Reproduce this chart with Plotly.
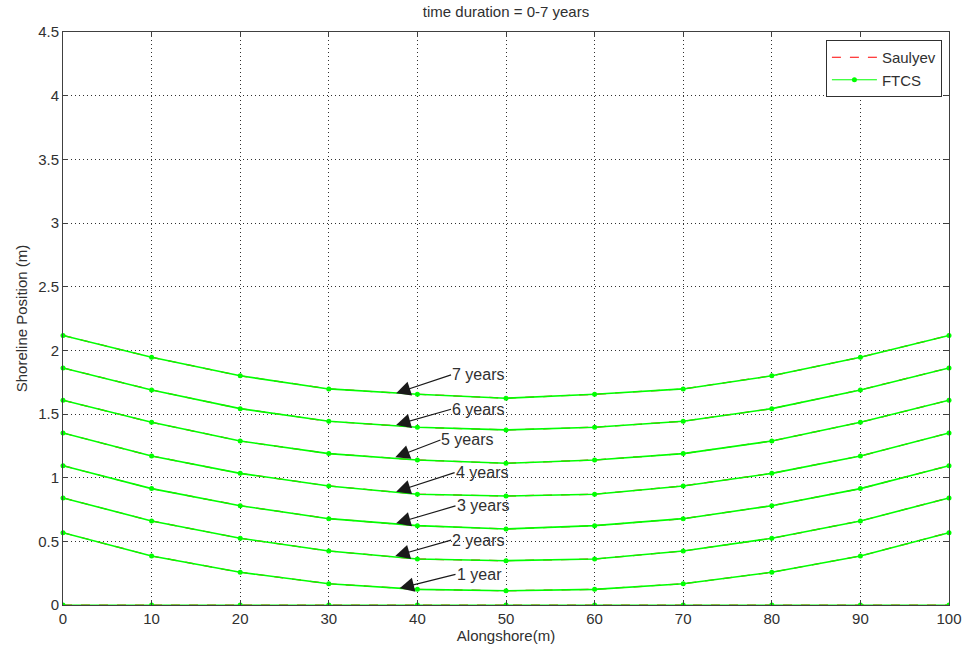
import plotly.graph_objects as go

x_along = [0, 10, 20, 30, 40, 50, 60, 70, 80, 90, 100]
y_0yr = [0, 0, 0, 0, 0, 0, 0, 0, 0, 0, 0]
y_1yr = [0.568, 0.385, 0.257, 0.167, 0.123, 0.112, 0.123, 0.167, 0.257, 0.385, 0.568]
y_2yr = [0.841, 0.660, 0.524, 0.424, 0.361, 0.348, 0.361, 0.424, 0.524, 0.660, 0.841]
y_3yr = [1.094, 0.914, 0.780, 0.678, 0.623, 0.597, 0.623, 0.678, 0.780, 0.914, 1.094]
y_4yr = [1.351, 1.170, 1.034, 0.935, 0.870, 0.856, 0.870, 0.935, 1.034, 1.170, 1.351]
y_5yr = [1.608, 1.435, 1.288, 1.189, 1.139, 1.113, 1.139, 1.189, 1.288, 1.435, 1.608]
y_6yr = [1.862, 1.689, 1.542, 1.443, 1.396, 1.375, 1.396, 1.443, 1.542, 1.689, 1.862]
y_7yr = [2.117, 1.946, 1.800, 1.697, 1.655, 1.624, 1.655, 1.697, 1.800, 1.946, 2.117]
series = [y_0yr, y_1yr, y_2yr, y_3yr, y_4yr, y_5yr, y_6yr, y_7yr]

labels = ["1 year", "2 years", "3 years", "4 years", "5 years", "6 years", "7 years"]
label_head_x = [38.0, 37.5, 37.6, 37.6, 37.5, 37.6, 37.6]
label_head_y = [0.131, 0.385, 0.642, 0.890, 1.160, 1.414, 1.663]
label_text_x = [44.3, 43.8, 44.3, 44.2, 42.6, 43.8, 43.8]
label_text_y = [0.241, 0.510, 0.778, 1.040, 1.296, 1.537, 1.807]

x_ticks = [0, 10, 20, 30, 40, 50, 60, 70, 80, 90, 100]
y_ticks = [0, 0.5, 1, 1.5, 2, 2.5, 3, 3.5, 4, 4.5]

FONT = "Liberation Sans, Arial, sans-serif"

fig = go.Figure()
for i, ys in enumerate(series):
    fig.add_trace(go.Scatter(
        x=x_along, y=ys, mode="lines", name="Saulyev",
        line=dict(color="#ff0000", width=1.2, dash="dash"),
        showlegend=(i == 0), cliponaxis=True, hoverinfo="skip"))
for i, ys in enumerate(series):
    fig.add_trace(go.Scatter(
        x=x_along, y=ys, mode="lines+markers", name="FTCS",
        line=dict(color="#00ff00", width=(1 if i == 0 else 1.6)),
        marker=dict(color="#00ff00", size=5),
        showlegend=(i == 0), cliponaxis=(i == 0)))

for lab, hx, hy, tx, ty in zip(labels, label_head_x, label_head_y, label_text_x, label_text_y):
    fig.add_annotation(
        x=hx, y=hy, ax=tx, ay=ty, axref="x", ayref="y", xref="x", yref="y",
        text=lab, showarrow=True, arrowhead=2, arrowsize=2.4, arrowwidth=1.2,
        arrowcolor="#1a1a1a", xanchor="left", yanchor="middle",
        font=dict(family=FONT, size=16, color="#303030"),
        borderpad=0)

axis_common = dict(
    showline=True, linecolor="#404040", linewidth=1, mirror="allticks",
    ticks="inside", ticklen=5, tickcolor="#404040",
    showgrid=True, gridcolor="#303030", gridwidth=1, griddash="1px,3px",
    zeroline=False, layer="above traces", automargin=False,
    tickfont=dict(family=FONT, size=15, color="#303030"),
)

fig.update_xaxes(range=[0, 100], tickvals=x_ticks,
                 title=dict(text="Alongshore(m)", standoff=2,
                            font=dict(family=FONT, size=15, color="#303030")),
                 **axis_common)
fig.update_yaxes(range=[0, 4.5], tickvals=y_ticks,
                 title=dict(text="Shoreline Position (m)", standoff=6,
                            font=dict(family=FONT, size=15, color="#303030")),
                 **axis_common)

fig.update_layout(
    width=967, height=651,
    margin=dict(l=63, r=18, t=32, b=46),
    paper_bgcolor="white", plot_bgcolor="white",
    title=dict(text="time duration = 0-7 years", x=0.5, xref="paper", y=0.982, yanchor="middle",
               font=dict(family=FONT, size=15, color="#303030")),
    legend=dict(x=0.992, y=0.986, xanchor="right", yanchor="top",
                bgcolor="white", bordercolor="#303030", borderwidth=1,
                font=dict(family=FONT, size=15, color="#303030"),
                tracegroupgap=0, itemwidth=45),
    showlegend=True,
)

fig.write_html("out.html")
